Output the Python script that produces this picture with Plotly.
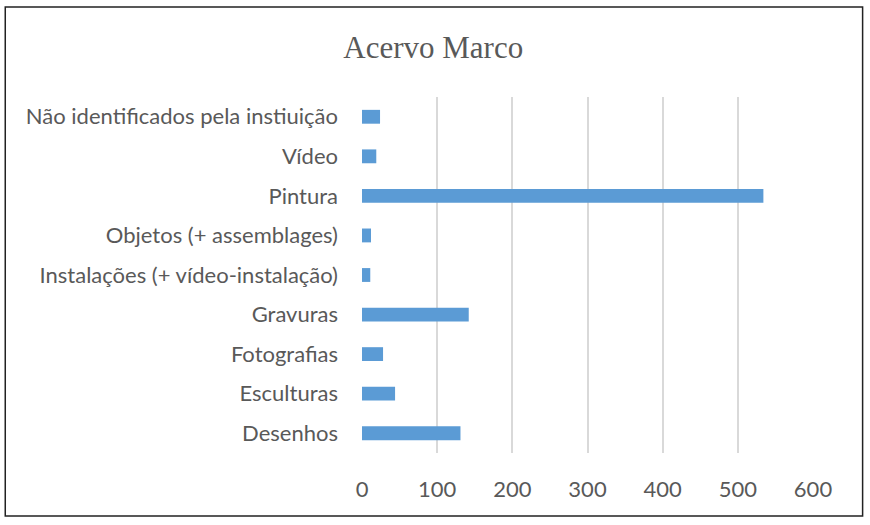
import plotly.graph_objects as go

# categories listed bottom -> top, as in the chart
categorias = ["Desenhos", "Esculturas", "Fotografias", "Gravuras",
              "Instalações (+ vídeo-instalação)", "Objetos (+ assemblages)",
              "Pintura", "Vídeo", "Não identificados pela instiuição"]
quantidades = [131, 44, 28, 142, 11, 12, 534, 19, 24]
ticks_x = [0, 100, 200, 300, 400, 500, 600]

cor_barra = "#5b9bd5"
cor_texto = "#595959"

fig = go.Figure()
fig.add_trace(go.Bar(
    y=categorias,
    x=quantidades,
    orientation="h",
    marker=dict(color=cor_barra, line=dict(width=0)),
    hoverinfo="x+y",
))

fig.update_layout(
    width=870, height=525,
    margin=dict(l=362, r=57, t=97, b=72),
    paper_bgcolor="white",
    plot_bgcolor="white",
    bargap=0.65,
    showlegend=False,
    title=dict(text="Acervo Marco", x=0.498, xref="container", y=0.91, yref="container",
               xanchor="center", yanchor="middle",
               font=dict(family="Liberation Serif", size=31, color=cor_texto)),
    font=dict(family="Lato", size=22, color=cor_texto),
)
fig.update_xaxes(
    range=[0, 600], tickvals=ticks_x,
    showgrid=True, gridcolor="#d9d9d9", gridwidth=1.5,
    zeroline=False, showline=False, ticks="",
    tickfont=dict(size=22, color=cor_texto),
    ticklabelstandoff=21,
)
fig.update_yaxes(
    showgrid=False, showline=False, ticks="",
    ticklabelstandoff=23,
    tickfont=dict(size=22, color=cor_texto),
)

# chart border
fig.add_shape(type="rect", xref="paper", yref="paper",
              x0=-0.791, x1=1.11, y0=-0.177, y1=1.253,
              line=dict(color="#222222", width=1.5), fillcolor="rgba(0,0,0,0)",
              layer="below")

# page body has a default margin; drop it so the figure sits at the window corner
fig.write_html("out.html", config={"displayModeBar": False},
               post_script="document.body.style.margin='0';")
